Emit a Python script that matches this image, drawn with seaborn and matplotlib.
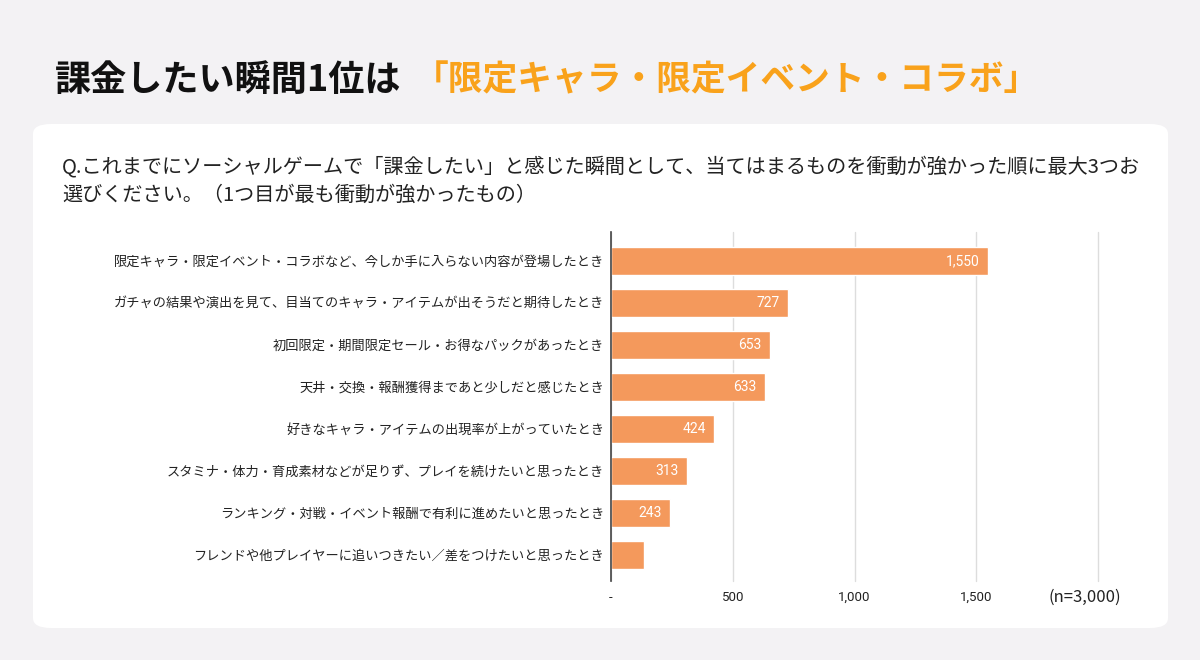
import matplotlib
matplotlib.use("Agg")
import matplotlib.pyplot as plt
from matplotlib.patches import FancyBboxPatch
import seaborn as sns

# data
categories = [
    "限定キャラ・限定イベント・コラボなど、今しか手に入らない内容が登場したとき",
    "ガチャの結果や演出を見て、目当てのキャラ・アイテムが出そうだと期待したとき",
    "初回限定・期間限定セール・お得なパックがあったとき",
    "天井・交換・報酬獲得まであと少しだと感じたとき",
    "好きなキャラ・アイテムの出現率が上がっていたとき",
    "スタミナ・体力・育成素材などが足りず、プレイを続けたいと思ったとき",
    "ランキング・対戦・イベント報酬で有利に進めたいと思ったとき",
    "フレンドや他プレイヤーに追いつきたい／差をつけたいと思ったとき",
]
counts = [1550, 727, 653, 633, 424, 313, 243, 134]
bar_texts = ["1,550", "727", "653", "633", "424", "313", "243", ""]
x_ticks = [0, 500, 1000, 1500, 2000]
x_ticklabels = ["-", "500", "1,000", "1,500", ""]

title_black = "課金したい瞬間1位は"
title_orange = "「限定キャラ・限定イベント・コラボ」"
question = ("Q.これまでにソーシャルゲームで「課金したい」と感じた瞬間として、当てはまるものを衝動が強かった順に最大3つお\n"
            "選びください。（1つ目が最も衝動が強かったもの）")
n_note = "(n=3,000)"

sns.set_style("white")
plt.rcParams["font.family"] = ["Noto Sans CJK JP", "DejaVu Sans"]

bg = "#F3F2F4"
bar_color = "#F4995C"
orange = "#F9A21B"

fig = plt.figure(figsize=(12, 6.6), dpi=100)
fig.patch.set_facecolor(bg)

# white rounded panel
panel = FancyBboxPatch((33 / 1200, 32 / 660), 1135 / 1200, 504 / 660,
                       boxstyle="round,pad=0,rounding_size=0.015",
                       transform=fig.transFigure, facecolor="white",
                       edgecolor="none", zorder=-5)
fig.patches.append(panel)

# title
t1 = fig.text(55 / 1200, 1 - 80 / 660, title_black, fontsize=26, fontweight="bold",
              color="#111111", va="center", ha="left")
fig.canvas.draw()
bb = t1.get_window_extent()
fig.text(bb.x1 / fig.bbox.width + 12 / 1200, 1 - 80 / 660, title_orange, fontsize=25,
         fontweight="bold", color=orange, va="center", ha="left")

fig.text(62 / 1200, 1 - 181 / 660, question, fontsize=14.5, color="#222222",
         va="center", ha="left", linespacing=1.45)

ax = fig.add_axes([611 / 1200, 1 - 581 / 660, 487 / 1200, 349 / 660])
ax.set_zorder(2)
ax.set_facecolor("none")
sns.barplot(x=counts, y=categories, color=bar_color, saturation=1, width=0.67,
            orient="h", ax=ax, zorder=3)

for i, (v, s) in enumerate(zip(counts, bar_texts)):
    if s:
        ax.annotate(s, xy=(v, i), xytext=(-6, 0), textcoords="offset points",
                    ha="right", va="center", color="white", fontsize=10,
                    family=["Roboto", "DejaVu Sans"], zorder=4)

ax.set_xlim(0, 2000)
ax.set_ylim(len(categories) - 0.38, -0.69)
ax.set_xticks(x_ticks)
ax.set_xticklabels(x_ticklabels, fontsize=9.5, color="#222222",
                   family=["Roboto", "DejaVu Sans"])
ax.tick_params(axis="both", length=0)
ax.tick_params(axis="x", pad=7)
ax.tick_params(axis="y", pad=5, labelsize=9.5, labelcolor="#222222")
ax.xaxis.grid(True, color="#DDDDDD", linewidth=1, zorder=0)
for gl in ax.get_xgridlines():
    gl.set_clip_on(False)
ax.yaxis.grid(False)
for side in ["top", "right", "bottom"]:
    ax.spines[side].set_visible(False)
ax.spines["left"].set_color("#444444")
ax.spines["left"].set_linewidth(1.2)
ax.spines["left"].set_zorder(5)
ax.set_xlabel("")
ax.set_ylabel("")

fig.text(1085 / 1200, 1 - 597 / 660, n_note, fontsize=12, color="#222222",
         ha="center", va="center")

fig.savefig("out.png", dpi=100, facecolor=fig.get_facecolor())
